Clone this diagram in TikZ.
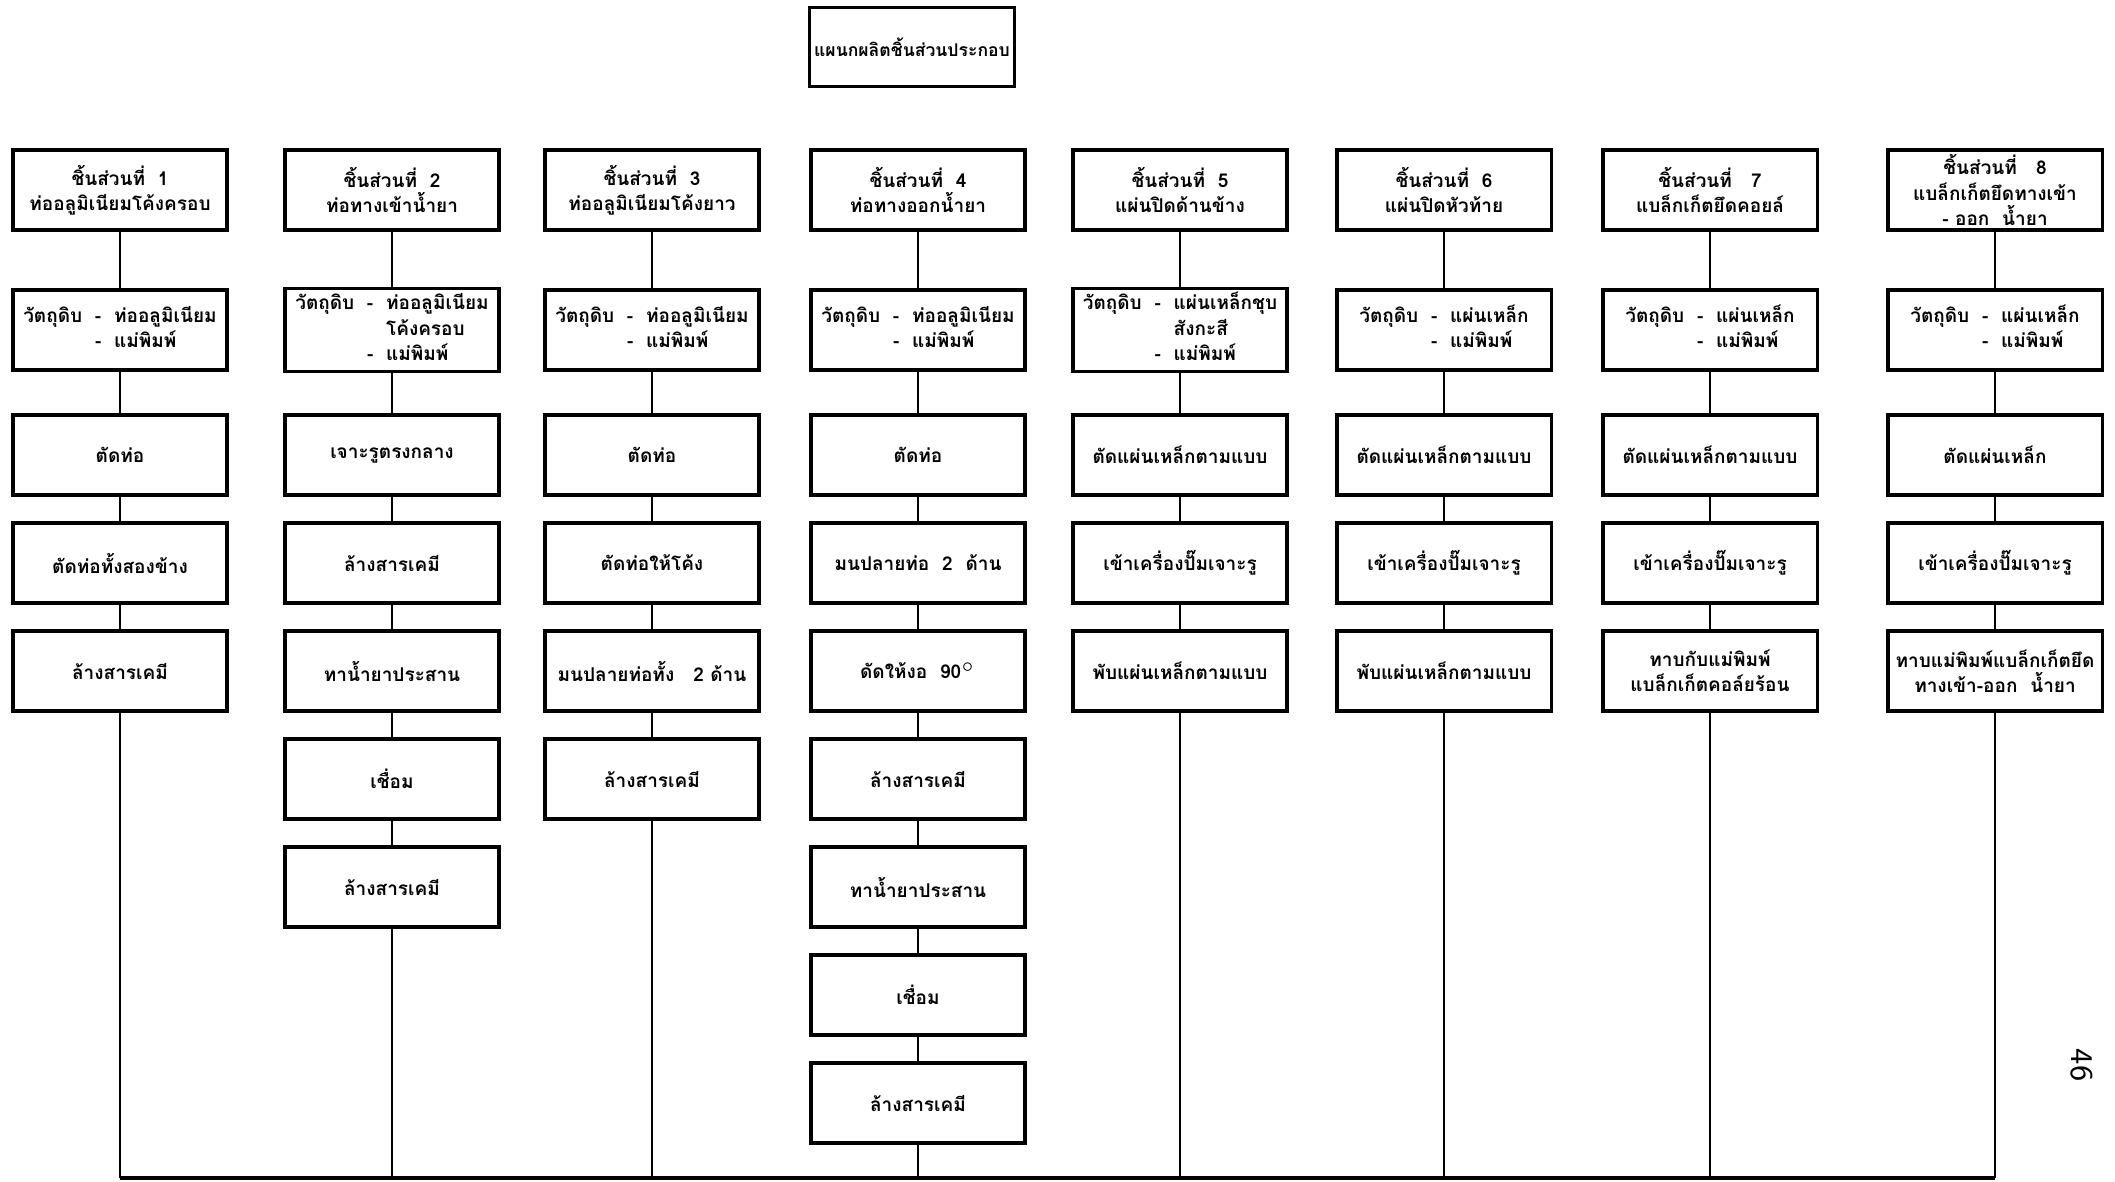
\documentclass[tikz,border=0pt]{standalone}
\usepackage{fontspec}
\newfontfamily\thaifont[Script=Thai]{Loma}
\begin{document}
\begin{tikzpicture}[
    x=0.01cm,y=-0.01cm,
    every node/.style={font=\thaifont\bfseries\fontsize{5.4}{7.2}\selectfont, inner sep=1pt},
    frame/.style={draw=black, line width=0.9pt},
    head/.style={frame, minimum width=2.05cm, minimum height=0.79cm, align=center, font=\thaifont\bfseries\fontsize{5}{6}\selectfont},
    part/.style={frame, minimum width=2.14cm, minimum height=0.8cm, align=center},
    mat/.style={frame, minimum width=2.14cm, minimum height=0.8cm, align=left},
    work/.style={frame, minimum width=2.14cm, minimum height=0.8cm, align=center},
    link/.style={draw=black, line width=0.7pt},
    base/.style={draw=black, line width=0.9pt}
]
    \useasboundingbox (0,0) rectangle (2115,1181);

    \node[head] (dept) at (912,47) {แผนกผลิตชิ้นส่วนประกอบ};

    % part 1
    \node[part] (c1t) at (120,190) {ชิ้นส่วนที่~~1\\ท่ออลูมิเนียมโค้งครอบ};
    \node[mat] (c1m) at (120,330) {\begin{tabular}{@{}l@{~~}c@{~~}l@{}}วัตถุดิบ & - & ท่ออลูมิเนียม\\ & - & แม่พิมพ์\end{tabular}};
    \node[work] (c1s1) at (120,455) {ตัดท่อ};
    \node[work] (c1s2) at (120,563) {ตัดท่อทั้งสองข้าง};
    \node[work] (c1s3) at (120,671) {ล้างสารเคมี};

    % part 2
    \node[part] (c2t) at (392,190) {ชิ้นส่วนที่~~2\\ท่อทางเข้าน้ำยา};
    \node[mat] (c2m) at (392,330) {\begin{tabular}{@{}l@{~~}c@{~~}l@{}}วัตถุดิบ & - & ท่ออลูมิเนียม\\ & & โค้งครอบ\\ & - & แม่พิมพ์\end{tabular}};
    \node[work] (c2s1) at (392,455) {เจาะรูตรงกลาง};
    \node[work] (c2s2) at (392,563) {ล้างสารเคมี};
    \node[work] (c2s3) at (392,671) {ทาน้ำยาประสาน};
    \node[work] (c2s4) at (392,779) {เชื่อม};
    \node[work] (c2s5) at (392,887) {ล้างสารเคมี};

    % part 3
    \node[part] (c3t) at (652,190) {ชิ้นส่วนที่~~3\\ท่ออลูมิเนียมโค้งยาว};
    \node[mat] (c3m) at (652,330) {\begin{tabular}{@{}l@{~~}c@{~~}l@{}}วัตถุดิบ & - & ท่ออลูมิเนียม\\ & - & แม่พิมพ์\end{tabular}};
    \node[work] (c3s1) at (652,455) {ตัดท่อ};
    \node[work] (c3s2) at (652,563) {ตัดท่อให้โค้ง};
    \node[work] (c3s3) at (652,671) {มนปลายท่อทั้ง~~~2 ด้าน};
    \node[work] (c3s4) at (652,779) {ล้างสารเคมี};

    % part 4
    \node[part] (c4t) at (918,190) {ชิ้นส่วนที่~~4\\ท่อทางออกน้ำยา};
    \node[mat] (c4m) at (918,330) {\begin{tabular}{@{}l@{~~}c@{~~}l@{}}วัตถุดิบ & - & ท่ออลูมิเนียม\\ & - & แม่พิมพ์\end{tabular}};
    \node[work] (c4s1) at (918,455) {ตัดท่อ};
    \node[work] (c4s2) at (918,563) {มนปลายท่อ~~2~~ด้าน};
    \node[work] (c4s3) at (918,671) {ดัดให้งอ~~90$^{\circ}$};
    \node[work] (c4s4) at (918,779) {ล้างสารเคมี};
    \node[work] (c4s5) at (918,887) {ทาน้ำยาประสาน};
    \node[work] (c4s6) at (918,995) {เชื่อม};
    \node[work] (c4s7) at (918,1103) {ล้างสารเคมี};

    % part 5
    \node[part] (c5t) at (1180,190) {ชิ้นส่วนที่~~5\\แผ่นปิดด้านข้าง};
    \node[mat] (c5m) at (1180,330) {\begin{tabular}{@{}l@{~~}c@{~~}l@{}}วัตถุดิบ & - & แผ่นเหล็กชุบ\\ & & สังกะสี\\ & - & แม่พิมพ์\end{tabular}};
    \node[work] (c5s1) at (1180,455) {ตัดแผ่นเหล็กตามแบบ};
    \node[work] (c5s2) at (1180,563) {เข้าเครื่องปั๊มเจาะรู};
    \node[work] (c5s3) at (1180,671) {พับแผ่นเหล็กตามแบบ};

    % part 6
    \node[part] (c6t) at (1444,190) {ชิ้นส่วนที่~~6\\แผ่นปิดหัวท้าย};
    \node[mat] (c6m) at (1444,330) {\begin{tabular}{@{}l@{~~}c@{~~}l@{}}วัตถุดิบ & - & แผ่นเหล็ก\\ & - & แม่พิมพ์\end{tabular}};
    \node[work] (c6s1) at (1444,455) {ตัดแผ่นเหล็กตามแบบ};
    \node[work] (c6s2) at (1444,563) {เข้าเครื่องปั๊มเจาะรู};
    \node[work] (c6s3) at (1444,671) {พับแผ่นเหล็กตามแบบ};

    % part 7
    \node[part] (c7t) at (1710,190) {ชิ้นส่วนที่~~~7\\แบล็กเก็ตยึดคอยล์};
    \node[mat] (c7m) at (1710,330) {\begin{tabular}{@{}l@{~~}c@{~~}l@{}}วัตถุดิบ & - & แผ่นเหล็ก\\ & - & แม่พิมพ์\end{tabular}};
    \node[work] (c7s1) at (1710,455) {ตัดแผ่นเหล็กตามแบบ};
    \node[work] (c7s2) at (1710,563) {เข้าเครื่องปั๊มเจาะรู};
    \node[work] (c7s3) at (1710,671) {ทาบกับแม่พิมพ์\\แบล็กเก็ตคอล์ยร้อน};

    % part 8
    \node[part] (c8t) at (1995,190) {ชิ้นส่วนที่~~~8\\แบล็กเก็ตยึดทางเข้า\\- ออก~~น้ำยา};
    \node[mat] (c8m) at (1995,330) {\begin{tabular}{@{}l@{~~}c@{~~}l@{}}วัตถุดิบ & - & แผ่นเหล็ก\\ & - & แม่พิมพ์\end{tabular}};
    \node[work] (c8s1) at (1995,455) {ตัดแผ่นเหล็ก};
    \node[work] (c8s2) at (1995,563) {เข้าเครื่องปั๊มเจาะรู};
    \node[work] (c8s3) at (1995,671) {ทาบแม่พิมพ์แบล็กเก็ตยึด\\ทางเข้า-ออก~~น้ำยา};

    \draw[link] (c1t) -- (c1m) -- (c1s1) -- (c1s2) -- (c1s3);
    \draw[link] (c2t) -- (c2m) -- (c2s1) -- (c2s2) -- (c2s3) -- (c2s4) -- (c2s5);
    \draw[link] (c3t) -- (c3m) -- (c3s1) -- (c3s2) -- (c3s3) -- (c3s4);
    \draw[link] (c4t) -- (c4m) -- (c4s1) -- (c4s2) -- (c4s3) -- (c4s4) -- (c4s5) -- (c4s6) -- (c4s7);
    \draw[link] (c5t) -- (c5m) -- (c5s1) -- (c5s2) -- (c5s3);
    \draw[link] (c6t) -- (c6m) -- (c6s1) -- (c6s2) -- (c6s3);
    \draw[link] (c7t) -- (c7m) -- (c7s1) -- (c7s2) -- (c7s3);
    \draw[link] (c8t) -- (c8m) -- (c8s1) -- (c8s2) -- (c8s3);

    \coordinate (e1) at (120,1178);
    \coordinate (e2) at (392,1178);
    \coordinate (e3) at (652,1178);
    \coordinate (e4) at (918,1178);
    \coordinate (e5) at (1180,1178);
    \coordinate (e6) at (1444,1178);
    \coordinate (e7) at (1710,1178);
    \coordinate (e8) at (1995,1178);

    \draw[link] (c1s3) -- (e1);
    \draw[link] (c2s5) -- (e2);
    \draw[link] (c3s4) -- (e3);
    \draw[link] (c4s7) -- (e4);
    \draw[link] (c5s3) -- (e5);
    \draw[link] (c6s3) -- (e6);
    \draw[link] (c7s3) -- (e7);
    \draw[link] (c8s3) -- (e8);
    \draw[base] (e1) -- (e8);

    \node[font=\sffamily\fontsize{9}{10}\selectfont, rotate=-90] (page) at (2082,1065) {46};
\end{tikzpicture}
\end{document}
